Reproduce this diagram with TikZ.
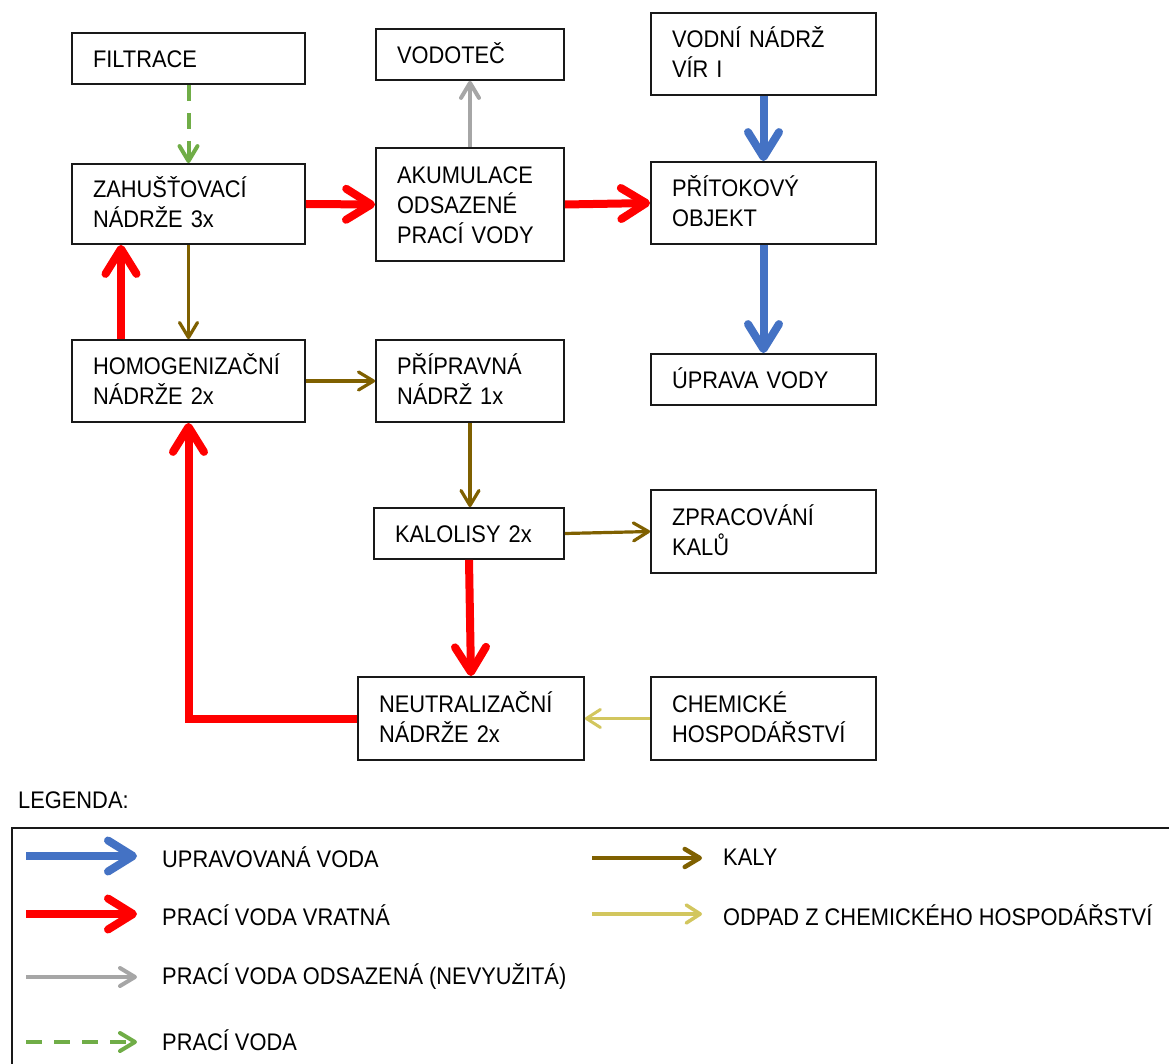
\documentclass[tikz,border=0pt]{standalone}
\usepackage{fontspec}
\setmainfont[FakeStretch=0.91]{Liberation Sans}
\usetikzlibrary{arrows.meta,calc}
\definecolor{cblue}{HTML}{4472C4}
\definecolor{cred}{HTML}{FF0000}
\definecolor{cgray}{HTML}{A6A6A6}
\definecolor{cgreen}{HTML}{70AD47}
\definecolor{cbrown}{HTML}{7F6000}
\definecolor{cyell}{HTML}{D2C65E}
\tikzset{
  x=1pt,y=-1pt,
  box/.style={draw=black!90,line width=1.8pt,align=left,inner xsep=21pt,inner ysep=0pt,
    font=\fontsize{24}{30}\selectfont},
  thickhead/.style={-{Straight Barb[length=25pt,width=31pt,round]}},
  thinhead/.style={-{Straight Barb[length=15pt,width=18pt,round]}},
  bluearrow/.style={draw=cblue,line width=8pt,thickhead},
  redarrow/.style={draw=cred,line width=8pt,thickhead},
  brownarrow/.style={draw=cbrown,line width=3.2pt,thinhead},
  grayarrow/.style={draw=cgray,line width=4pt,thinhead},
  greenarrow/.style={draw=cgreen,line width=4pt,dash pattern=on 16pt off 12pt,thinhead},
  yellarrow/.style={draw=cyell,line width=3pt,-{Straight Barb[length=14pt,width=18pt,round]}},
  lbl/.style={anchor=west,inner sep=0pt,font=\fontsize{24}{30}\selectfont},
}
\newcommand{\topst}{\rule{0pt}{24pt}}
\newcommand{\botst}{\rule[-6.5pt]{0pt}{6.5pt}}
\newcommand{\bx}[6]{\node[box,text width=#4pt-42pt,minimum height=#5pt] (#1) at (#2,#3) {\topst #6\botst};}
\begin{document}
\begin{tikzpicture}
\useasboundingbox (0,0) rectangle (1169,1064);
\clip (0,0) rectangle (1169,1064);
\fill[white] (0,0) rectangle (1169,1064);
% boxes
\bx{filtrace}{188.5}{58.5}{233}{51}{FILTRACE}
\bx{vodotec}{470}{54.5}{188}{51}{VODOTEČ}
\bx{vir}{763.5}{54}{225}{82}{VODNÍ NÁDRŽ\\VÍR I}
\bx{zahus}{188.5}{204}{233}{80}{ZAHUŠŤOVACÍ\\NÁDRŽE 3x}
\bx{akum}{470}{204.5}{188}{113}{AKUMULACE\\ODSAZENÉ\\PRACÍ VODY}
\bx{pritok}{763.5}{203}{225}{82}{PŘÍTOKOVÝ\\OBJEKT}
\bx{homog}{188.5}{381}{233}{82}{HOMOGENIZAČNÍ\\NÁDRŽE 2x}
\bx{priprav}{470}{381}{188}{82}{PŘÍPRAVNÁ\\NÁDRŽ 1x}
\bx{uprava}{763.5}{379.5}{225}{51}{ÚPRAVA VODY}
\bx{kalolisy}{469}{533.5}{190}{51}{KALOLISY 2x}
\bx{zprac}{763.5}{531.5}{225}{83}{ZPRACOVÁNÍ\\KALŮ}
\bx{neutral}{471}{718.5}{226}{83}{NEUTRALIZAČNÍ\\NÁDRŽE 2x}
\bx{chem}{763.5}{718.5}{225}{83}{CHEMICKÉ\\HOSPODÁŘSTVÍ}
% connectors
\draw[greenarrow] (filtrace.south) -- (zahus.north);
\draw[grayarrow] (akum.north) -- (vodotec.south);
\draw[redarrow] (zahus.east) -- (akum.west);
\draw[redarrow] (akum.east) -- (pritok.west);
\draw[bluearrow] (vir.south) -- (pritok.north);
\draw[bluearrow] (pritok.south) -- (uprava.north);
\draw[redarrow] ([xshift=-67.5pt]homog.north) -- ([xshift=-67.5pt]zahus.south);
\draw[brownarrow] (zahus.south) -- (homog.north);
\draw[brownarrow] (homog.east) -- (priprav.west);
\draw[brownarrow] (priprav.south) -- (priprav.south |- kalolisy.north);
\draw[brownarrow] (kalolisy.east) -- (zprac.west);
\draw[redarrow] (kalolisy.south) -- (neutral.north);
\draw[redarrow,line join=miter] (neutral.west) -- (neutral.west -| homog.south) -- (homog.south);
\draw[yellarrow] (chem.west) -- (neutral.east);
% legend
\node[lbl] (legtitle) at (18,800) {LEGENDA:};
\node[draw=black!90,line width=1.8pt,anchor=north west,minimum width=1200pt,minimum height=300pt,inner sep=0pt] (legbox) at (11,827) {};
\coordinate (l1a) at (26,856); \coordinate (l1b) at (137,856);
\coordinate (l2a) at (26,914); \coordinate (l2b) at (137,914);
\coordinate (l3a) at (26,977); \coordinate (l3b) at (137,977);
\coordinate (l4a) at (26,1042); \coordinate (l4b) at (137,1042);
\coordinate (l5a) at (592,858); \coordinate (l5b) at (702,858);
\coordinate (l6a) at (592,914); \coordinate (l6b) at (702,914);
\draw[bluearrow] (l1a) -- (l1b);
\draw[redarrow] (l2a) -- (l2b);
\draw[grayarrow] (l3a) -- (l3b);
\draw[greenarrow] (l4a) -- (l4b);
\draw[brownarrow,line width=4.5pt] (l5a) -- (l5b);
\draw[yellarrow,line width=3.5pt] (l6a) -- (l6b);
\node[lbl] (t1) at (162,857) {UPRAVOVANÁ VODA};
\node[lbl] (t2) at (162,915) {PRACÍ VODA VRATNÁ};
\node[lbl] (t3) at (162,976) {PRACÍ VODA ODSAZENÁ (NEVYUŽITÁ)};
\node[lbl] (t4) at (162,1040) {PRACÍ VODA};
\node[lbl] (t5) at (723,857) {KALY};
\node[lbl] (t6) at (723,915) {ODPAD Z CHEMICKÉHO HOSPODÁŘSTVÍ};
\end{tikzpicture}
\end{document}
